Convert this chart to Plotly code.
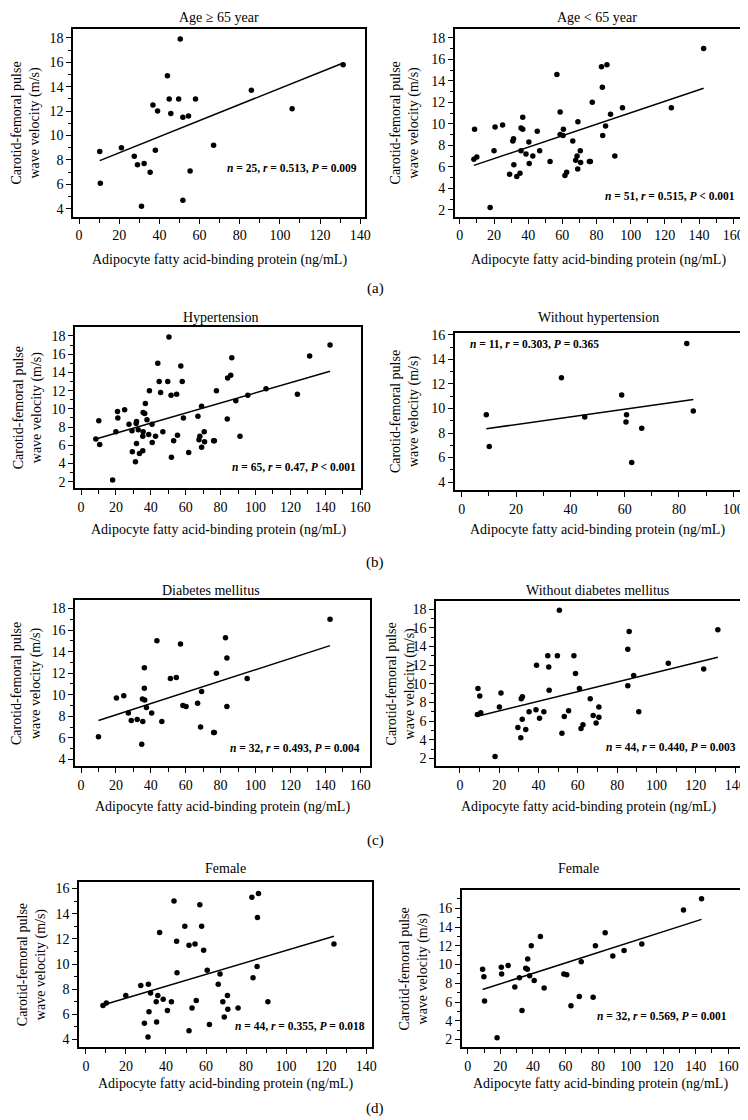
import numpy as np
import plotly.graph_objects as go

W, H = 748, 1120
FONT = "Liberation Serif, Times New Roman, serif"

# ---------------- data (A-FABP ng/mL vs cfPWV m/s) ----------------
age_ge65_x = [10.3, 10.6, 21.1, 27.5, 29.1, 32.4, 31.1, 35.4, 36.8, 39.1, 38.0, 44.0, 44.9,
              45.7, 49.6, 50.4, 51.7, 54.5, 58.0, 51.7, 55.3, 67.0, 85.8, 106.1, 131.5]
age_ge65_y = [8.7, 6.1, 9.0, 8.3, 7.6, 7.7, 4.2, 7.0, 12.5, 12.0, 8.8, 14.9, 13.0,
              11.8, 13.0, 17.9, 11.5, 11.6, 13.0, 4.7, 7.1, 9.2, 13.7, 12.2, 15.8]

age_lt65_x = [8.6, 8.2, 9.9, 17.7, 20.0, 20.6, 25.0, 29.1, 31.0, 31.4, 31.6, 33.3, 35.2, 35.8,
              35.8, 36.8, 36.8, 38.7, 40.4, 40.6, 42.7, 45.3, 46.7, 52.8, 56.8, 58.7, 58.7, 60.4,
              60.6, 61.5, 62.5, 66.1, 67.8, 68.6, 69.0, 69.1, 70.5, 70.7, 75.8, 76.4, 77.5, 82.9,
              83.4, 83.6, 86.1, 85.3, 88.2, 90.7, 95.2, 123.8, 142.7]
age_lt65_y = [9.5, 6.7, 6.9, 2.2, 7.5, 9.7, 9.9, 5.3, 8.4, 8.6, 6.2, 5.1, 5.4, 7.5,
              9.6, 10.6, 9.5, 7.2, 8.3, 6.3, 7.0, 9.3, 7.5, 6.5, 14.6, 11.1, 9.0, 8.9,
              9.5, 5.2, 5.5, 8.4, 6.6, 7.0, 5.8, 10.2, 7.5, 6.4, 6.5, 6.5, 12.0, 15.3,
              13.4, 8.9, 15.5, 9.8, 10.9, 7.0, 11.5, 11.5, 17.0]

htn_x = [8.5, 10.2, 10.7, 18.1, 20.0, 20.9, 21.1, 25.0, 27.5, 29.2, 29.4, 31.2, 31.6, 31.8,
         31.8, 32.8, 33.5, 35.6, 36.5, 36.9, 35.6, 35.4, 35.4, 37.8, 38.8, 39.2, 40.7, 40.8,
         42.7, 44.0, 44.8, 45.6, 46.9, 49.7, 50.4, 51.6, 51.8, 53.1, 54.8, 55.3, 57.2, 58.0,
         58.7, 61.7, 67.0, 67.6, 68.1, 69.1, 69.1, 70.6, 70.8, 76.0, 76.4, 77.6, 83.8, 84.0,
         85.8, 86.4, 88.7, 91.1, 95.6, 106.0, 124.0, 131.0, 142.7]
htn_y = [6.7, 8.7, 6.1, 2.2, 7.5, 9.7, 9.0, 9.9, 8.3, 7.6, 5.3, 4.2, 8.4, 8.6,
         6.2, 7.7, 5.1, 9.6, 9.5, 10.6, 7.5, 7.0, 5.4, 8.8, 7.2, 12.0, 8.3, 6.3,
         7.0, 15.0, 13.0, 11.8, 7.5, 13.0, 17.9, 11.5, 4.7, 6.5, 11.6, 7.1, 14.7, 13.0,
         9.0, 5.2, 9.2, 6.6, 7.0, 10.3, 5.8, 7.5, 6.4, 6.5, 6.5, 12.0, 8.9, 13.4,
         13.7, 15.6, 10.9, 7.0, 11.5, 12.2, 11.6, 15.8, 17.0]

nohtn_x = [9.0, 10.1, 36.7, 45.3, 58.9, 60.7, 60.5, 62.6, 66.3, 82.9, 85.3]
nohtn_y = [9.5, 6.9, 12.5, 9.3, 11.1, 9.5, 8.9, 5.6, 8.4, 15.3, 9.8]

dm_x = [10.0, 20.3, 24.5, 27.1, 28.8, 32.2, 34.8, 35.4, 35.2, 36.5, 36.3, 36.3, 37.5, 40.5,
        43.5, 46.3, 51.2, 54.6, 57.0, 58.4, 60.2, 66.8, 68.5, 69.1, 76.0, 76.4, 77.6, 82.8,
        83.6, 83.6, 95.2, 142.7]
dm_y = [6.1, 9.7, 9.9, 8.3, 7.6, 7.7, 5.4, 7.5, 9.6, 9.5, 12.5, 10.6, 8.8, 8.3,
        15.0, 7.5, 11.5, 11.6, 14.7, 9.0, 8.9, 9.2, 7.0, 10.3, 6.5, 6.5, 12.0, 15.3,
        13.4, 8.9, 11.5, 17.0]

nodm_x = [8.9, 9.2, 10.1, 10.6, 17.9, 20.1, 20.9, 29.5, 31.0, 31.2, 31.8, 31.7, 33.5, 35.2,
          38.7, 39.0, 40.5, 42.7, 44.7, 45.2, 45.4, 49.6, 50.6, 51.9, 53.1, 55.3, 58.0, 58.8,
          60.8, 61.6, 62.6, 66.3, 67.8, 69.3, 70.7, 70.7, 85.4, 86.1, 85.4, 88.4, 91.0, 106.0,
          124.0, 131.2]
nodm_y = [6.7, 9.5, 8.7, 6.9, 2.2, 7.5, 9.0, 5.3, 4.2, 8.4, 8.6, 6.2, 5.1, 7.0,
          7.2, 12.0, 6.3, 7.0, 13.0, 11.8, 9.3, 13.0, 17.9, 4.7, 6.5, 7.1, 13.0, 11.1,
          9.5, 5.2, 5.6, 8.4, 6.6, 5.8, 7.5, 6.4, 13.7, 15.6, 9.8, 10.9, 7.0, 12.2,
          11.6, 15.8]

fem1_x = [8.5, 10.2, 19.9, 27.4, 31.2, 32.3, 31.5, 29.2, 35.1, 35.9, 35.3, 36.8, 38.6, 40.7,
          42.7, 44.0, 45.3, 45.5, 49.4, 51.5, 51.5, 53.0, 54.5, 55.1, 56.9, 57.8, 58.8, 60.6,
          61.7, 66.1, 67.0, 68.4, 69.1, 70.7, 70.9, 76.0, 82.9, 86.2, 85.7, 83.5, 85.5, 90.9,
          123.9, 31.0]
fem1_y = [6.7, 6.9, 7.5, 8.3, 8.4, 7.7, 6.2, 5.3, 7.0, 7.5, 5.4, 12.5, 7.2, 6.3,
          7.0, 15.0, 11.8, 9.3, 13.0, 11.5, 4.7, 6.5, 11.6, 7.1, 14.7, 13.0, 11.1, 9.5,
          5.2, 8.4, 9.2, 7.0, 5.8, 7.5, 6.4, 6.5, 15.3, 15.6, 13.7, 8.9, 9.8, 7.0,
          11.6, 4.2]

fem2_x = [9.1, 9.9, 10.3, 18.0, 20.6, 20.8, 24.8, 28.9, 31.7, 33.3, 35.6, 36.6, 36.8, 38.0,
          39.0, 40.8, 44.6, 46.9, 50.5, 59.0, 60.8, 63.4, 68.5, 69.7, 77.0, 78.4, 84.4, 89.1,
          96.0, 106.9, 132.5, 143.6]
fem2_y = [9.5, 8.7, 6.1, 2.2, 9.7, 9.0, 9.9, 7.6, 8.6, 5.1, 9.6, 9.5, 10.6, 8.8,
          12.0, 8.3, 13.0, 7.5, 17.9, 9.0, 8.9, 5.6, 6.6, 10.3, 6.5, 12.0, 13.4, 10.9,
          11.5, 12.2, 15.8, 17.0]

panel_titles = ["Age \u2265 65 year", "Age < 65 year", "Hypertension", "Without hypertension",
                "Diabetes mellitus", "Without diabetes mellitus", "Female", "Female"]
stat_texts = ["n = 25, r = 0.513, P = 0.009", "n = 51, r = 0.515, P < 0.001",
              "n = 65, r = 0.47, P < 0.001", "n = 11, r = 0.303, P = 0.365",
              "n = 32, r = 0.493, P = 0.004", "n = 44, r = 0.440, P = 0.003",
              "n = 44, r = 0.355, P = 0.018", "n = 32, r = 0.569, P = 0.001"]
x_tick_max = [140, 160, 160, 100, 160, 140, 140, 160]
y_tick_min = [4, 2, 2, 4, 4, 2, 4, 2]
y_tick_max = [18, 18, 18, 16, 18, 18, 16, 18]
sub_labels = ["(a)", "(b)", "(c)", "(d)"]
x_title = "Adipocyte fatty acid-binding protein (ng/mL)"
y_title = "Carotid-femoral pulse<br>wave velocity (m/s)"

series = [(age_ge65_x, age_ge65_y), (age_lt65_x, age_lt65_y), (htn_x, htn_y),
          (nohtn_x, nohtn_y), (dm_x, dm_y), (nodm_x, nodm_y), (fem1_x, fem1_y),
          (fem2_x, fem2_y)]

# ---------------- layout geometry (pixels) ----------------
# box: left, top, right, bottom of frame; xcal/ycal: (value, pixel, value, pixel)
geom = [
    dict(box=(66, 16, 362, 205), xcal=(0, 72, 140, 357), ycal=(4, 197, 18, 25),
         stat=(356, 156, "right"), title=(214, 5), ytx=18, xty=249),
    dict(box=(453, 16, 743, 205), xcal=(0, 458, 160, 735), ycal=(2, 198, 18, 25),
         stat=(739, 184, "right"), title=(597, 5), ytx=402, xty=249),
    dict(box=(68, 316, 358, 478), xcal=(0, 74, 160, 357), ycal=(2, 471.7, 18, 325),
         stat=(355, 457, "right"), title=(215, 306), ytx=20, xty=520),
    dict(box=(453, 322, 742, 480), xcal=(0, 460, 100, 735), ycal=(4, 472, 16, 324),
         stat=(466, 333, "left"), title=(599, 306), ytx=403, xty=520),
    dict(box=(68, 591, 367, 758), xcal=(0, 74, 160, 357), ycal=(4, 751, 18, 599.3),
         stat=(359, 740, "right"), title=(206, 581), ytx=19, xty=799),
    dict(box=(434, 592, 742, 758), xcal=(0, 458, 140, 737), ycal=(2, 750, 18, 600),
         stat=(740, 739, "right"), title=(597, 581), ytx=398, xty=799),
    dict(box=(72, 874, 369, 1041), xcal=(0, 79, 140, 363), ycal=(4, 1033, 16, 881),
         stat=(364, 1019, "right"), title=(220, 861), ytx=24, xty=1078),
    dict(box=(460, 883, 742, 1041), xcal=(0, 466, 160, 730), ycal=(2, 1033, 18, 882),
         stat=(731, 1009, "right"), title=(578, 861), ytx=411, xty=1078),
]
sub_pos = [(372, 277), (372, 553), (372, 833), (372, 1102)]


def px(x):
    return x / W


def py(y):
    return 1 - y / H


def stat_html(s):
    out = s
    for v in ["n", "r", "P"]:
        out = out.replace(v + " =", "<i>" + v + "</i> =").replace(v + " <", "<i>" + v + "</i> <")
    return "<b>" + out + "</b>"


fig = go.Figure()
layout = {}
annotations = []
axis_common = dict(showline=True, mirror=True, linecolor="black", linewidth=1.6,
                   ticks="outside", ticklen=5, tickwidth=1, tickcolor="black",
                   showgrid=False, zeroline=False, ticklabeloverflow="allow",
                   tickfont=dict(family=FONT, size=14, color="black"))

for i, ((xs, ys), g) in enumerate(zip(series, geom), start=1):
    xa = "xaxis" if i == 1 else f"xaxis{i}"
    ya = "yaxis" if i == 1 else f"yaxis{i}"
    xr = "x" if i == 1 else f"x{i}"
    yr = "y" if i == 1 else f"y{i}"
    l, t, r, b = g["box"]
    v0, p0, v1, p1 = g["xcal"]
    kx = (p1 - p0) / (v1 - v0)
    xrange_ = [v0 + (l - p0) / kx, v0 + (r - p0) / kx]
    w0, q0, w1, q1 = g["ycal"]
    ky = (q0 - q1) / (w1 - w0)
    yrange_ = [w0 - (b - q0) / ky, w0 + (q0 - t) / ky]

    xmax = x_tick_max[i - 1]
    layout[xa] = dict(axis_common, domain=[px(l), px(r)], range=xrange_, anchor=yr,
                      tickvals=list(range(0, xmax + 1, 20)),
                      minor=dict(tickvals=list(range(0, xmax + 1, 10)), ticks="outside",
                                 ticklen=4, tickcolor="black"))
    ymin, ymax = y_tick_min[i - 1], y_tick_max[i - 1]
    layout[ya] = dict(axis_common, domain=[py(b), py(t)], range=yrange_, anchor=xr,
                      tickvals=list(range(ymin, ymax + 1, 2)),
                      minor=dict(tickvals=list(range(ymin, ymax + 1, 1)), ticks="outside",
                                 ticklen=3, tickcolor="black"))

    fig.add_trace(go.Scatter(x=xs, y=ys, mode="markers", xaxis=xr, yaxis=yr,
                             marker=dict(color="black", size=5.5), showlegend=False,
                             cliponaxis=False))
    xa_np = np.array(xs, dtype=float)
    ya_np = np.array(ys, dtype=float)
    slope, icpt = np.polyfit(xa_np, ya_np, 1)
    lx = [float(xa_np.min()), float(xa_np.max())]
    fig.add_trace(go.Scatter(x=lx, y=[icpt + slope * v for v in lx], mode="lines",
                             xaxis=xr, yaxis=yr, line=dict(color="black", width=1.5),
                             showlegend=False))

    sx, sy, sanchor = g["stat"]
    annotations.append(dict(x=px(sx), y=py(sy), xref="paper", yref="paper",
                            text=stat_html(stat_texts[i - 1]), showarrow=False,
                            xanchor=sanchor, yanchor="middle",
                            font=dict(family=FONT, size=11.5, color="black")))
    tx, ty = g["title"]
    annotations.append(dict(x=px(tx), y=py(ty), xref="paper", yref="paper",
                            text=panel_titles[i - 1], showarrow=False,
                            xanchor="center", yanchor="middle",
                            font=dict(family=FONT, size=14, color="black")))
    annotations.append(dict(x=px(g["ytx"]), y=py((t + b) / 2), xref="paper", yref="paper",
                            text=y_title, showarrow=False, textangle=-90,
                            xanchor="center", yanchor="middle",
                            font=dict(family=FONT, size=14, color="black")))
    annotations.append(dict(x=px((l + r) / 2), y=py(g["xty"]), xref="paper", yref="paper",
                            text=x_title, showarrow=False,
                            xanchor="center", yanchor="middle",
                            font=dict(family=FONT, size=14, color="black")))

for lab, (sx, sy) in zip(sub_labels, sub_pos):
    annotations.append(dict(x=px(sx), y=py(sy), xref="paper", yref="paper", text=lab,
                            showarrow=False, xanchor="center", yanchor="middle",
                            font=dict(family=FONT, size=15, color="black")))

fig.update_layout(**layout)
fig.update_layout(width=W, height=H, margin=dict(l=0, r=0, t=0, b=0),
                  paper_bgcolor="white", plot_bgcolor="white",
                  annotations=annotations, showlegend=False,
                  font=dict(family=FONT, color="black"))

fig.write_html("out.html")
